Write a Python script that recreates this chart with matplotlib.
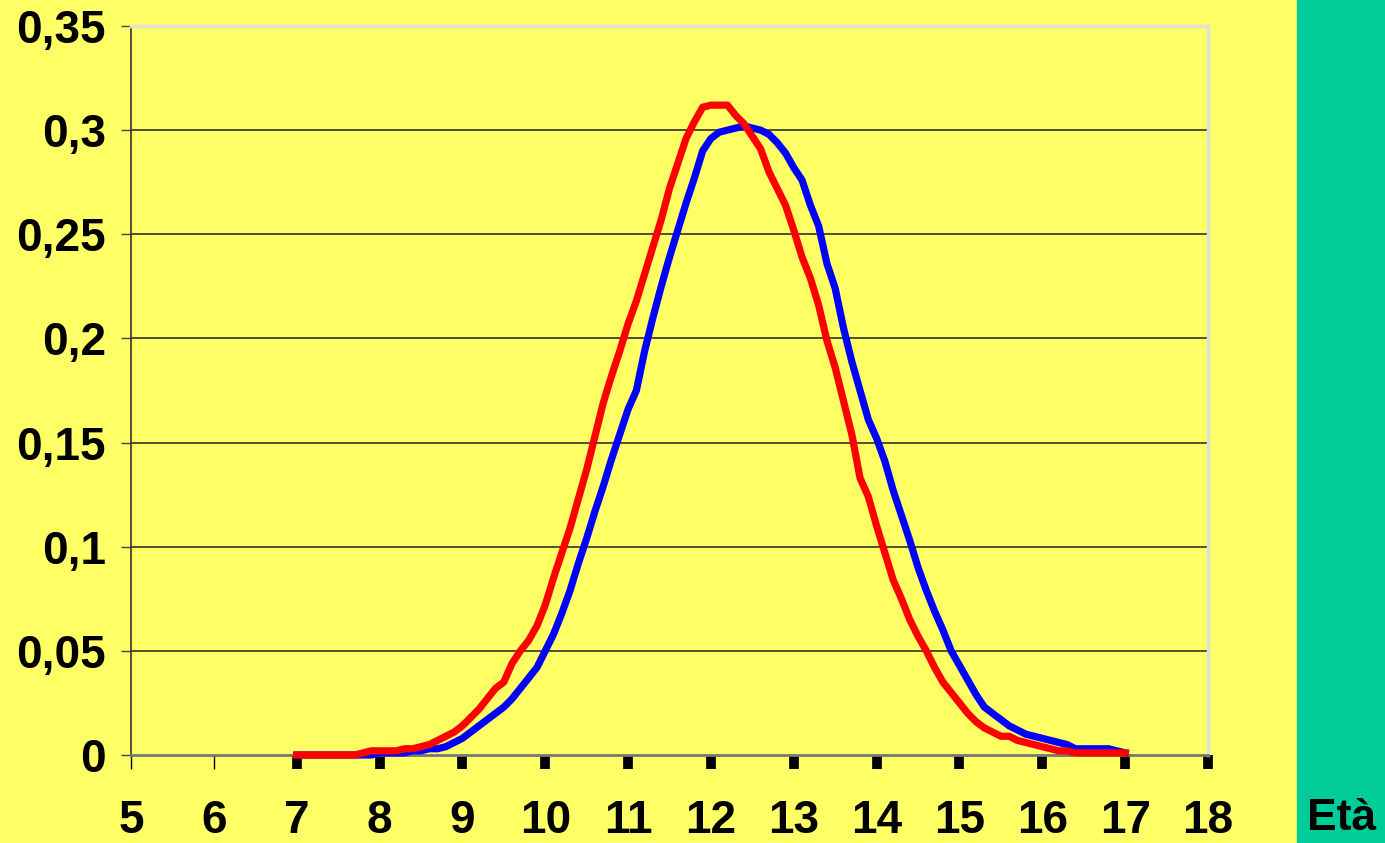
import matplotlib
matplotlib.use("Agg")
from matplotlib import pyplot as plt
from matplotlib.patches import Rectangle
import numpy as np

# ages sampled every 0.1 year from 7 to 17
ages = np.round(np.arange(70, 171) / 10, 1)

red = [0, 0, 0, 0, 0, 0, 0, 0, 0.001, 0.002,
       0.002, 0.002, 0.002, 0.003, 0.003, 0.004, 0.005, 0.007, 0.009, 0.011,
       0.014, 0.018, 0.022, 0.027, 0.032, 0.035, 0.044, 0.050, 0.055, 0.062,
       0.072, 0.085, 0.097, 0.109, 0.123, 0.137, 0.153, 0.169, 0.182, 0.194,
       0.207, 0.218, 0.231, 0.244, 0.257, 0.272, 0.284, 0.296, 0.304, 0.311,
       0.312, 0.312, 0.312, 0.307, 0.303, 0.297, 0.291, 0.280, 0.272, 0.264,
       0.252, 0.239, 0.229, 0.216, 0.199, 0.186, 0.170, 0.154, 0.133, 0.124,
       0.110, 0.097, 0.084, 0.075, 0.065, 0.057, 0.050, 0.042, 0.035, 0.030,
       0.025, 0.020, 0.016, 0.013, 0.011, 0.009, 0.009, 0.007, 0.006, 0.005,
       0.004, 0.003, 0.002, 0.002, 0.001, 0.001, 0.001, 0.001, 0.001, 0.001,
       0.001]

blue = [0, 0, 0, 0, 0, 0, 0, 0, 0, 0,
        0.001, 0.001, 0.001, 0.001, 0.002, 0.002, 0.003, 0.003, 0.004, 0.006,
        0.008, 0.011, 0.014, 0.017, 0.020, 0.023, 0.027, 0.032, 0.037, 0.042,
        0.050, 0.058, 0.068, 0.079, 0.092, 0.104, 0.117, 0.129, 0.142, 0.154,
        0.166, 0.175, 0.194, 0.210, 0.225, 0.239, 0.252, 0.265, 0.277, 0.290,
        0.296, 0.299, 0.300, 0.301, 0.302, 0.301, 0.300, 0.298, 0.294, 0.289,
        0.282, 0.276, 0.264, 0.254, 0.236, 0.224, 0.205, 0.189, 0.175, 0.161,
        0.152, 0.141, 0.127, 0.115, 0.103, 0.090, 0.079, 0.069, 0.060, 0.050,
        0.043, 0.036, 0.029, 0.023, 0.020, 0.017, 0.014, 0.012, 0.010, 0.009,
        0.008, 0.007, 0.006, 0.005, 0.003, 0.003, 0.003, 0.003, 0.003, 0.002,
        0.001]

x_ticks = list(range(5, 19))
y_ticks = [0, 0.05, 0.1, 0.15, 0.2, 0.25, 0.3, 0.35]
y_labels = ["0", "0,05", "0,1", "0,15", "0,2", "0,25", "0,3", "0,35"]

YELLOW = "#FFFF66"
GREEN = "#00CC99"

plt.rcParams["font.family"] = ["Liberation Sans", "DejaVu Sans"]

fig = plt.figure(figsize=(13.85, 8.43), dpi=100, facecolor=YELLOW)
fig.patches.append(Rectangle((1297 / 1385, 0), 88 / 1385, 1, transform=fig.transFigure,
                             color=GREEN, zorder=0))

ax = fig.add_axes([131 / 1385, 88 / 843, 1077 / 1385, 729 / 843])
ax.set_facecolor(YELLOW)

ax.plot(ages, blue, color="#0000FF", lw=5.2, solid_joinstyle="round", zorder=3, clip_on=False)
ax.plot(ages, red, color="#FF0000", lw=5.2, solid_joinstyle="round", zorder=4, clip_on=False)

ax.set_xlim(5, 18)
ax.set_ylim(0, 0.35)

# horizontal grid lines
for v in y_ticks[1:-1]:
    ax.axhline(v, color="#222222", lw=1.1, zorder=1)

ax.set_xticks(x_ticks)
ax.set_xticklabels([str(t) for t in x_ticks], fontsize=33, fontweight="bold")
ax.set_yticks(y_ticks)
ax.set_yticklabels(y_labels, fontsize=33, fontweight="bold")

ax.tick_params(axis="x", direction="out", length=10, width=1, pad=22, color="black")
ax.tick_params(axis="y", direction="out", length=7, width=1, pad=11, color="#444444")

# thick tick marks from 7 onward
for tk, val in zip(ax.xaxis.get_major_ticks(), x_ticks):
    if val >= 7:
        tk.tick1line.set_markeredgewidth(7)

for side in ["top", "right"]:
    ax.spines[side].set_color("#E0E0E0")
    ax.spines[side].set_linewidth(2.5)
ax.spines["left"].set_color("#333333")
ax.spines["left"].set_linewidth(1.2)
ax.spines["bottom"].set_color("#777777")
ax.spines["bottom"].set_linewidth(2)

fig.text(1342 / 1385, 1 - 818 / 843, "Età", fontsize=32, fontweight="bold",
         ha="center", va="center")

fig.savefig("out.png", dpi=100, facecolor=YELLOW)
